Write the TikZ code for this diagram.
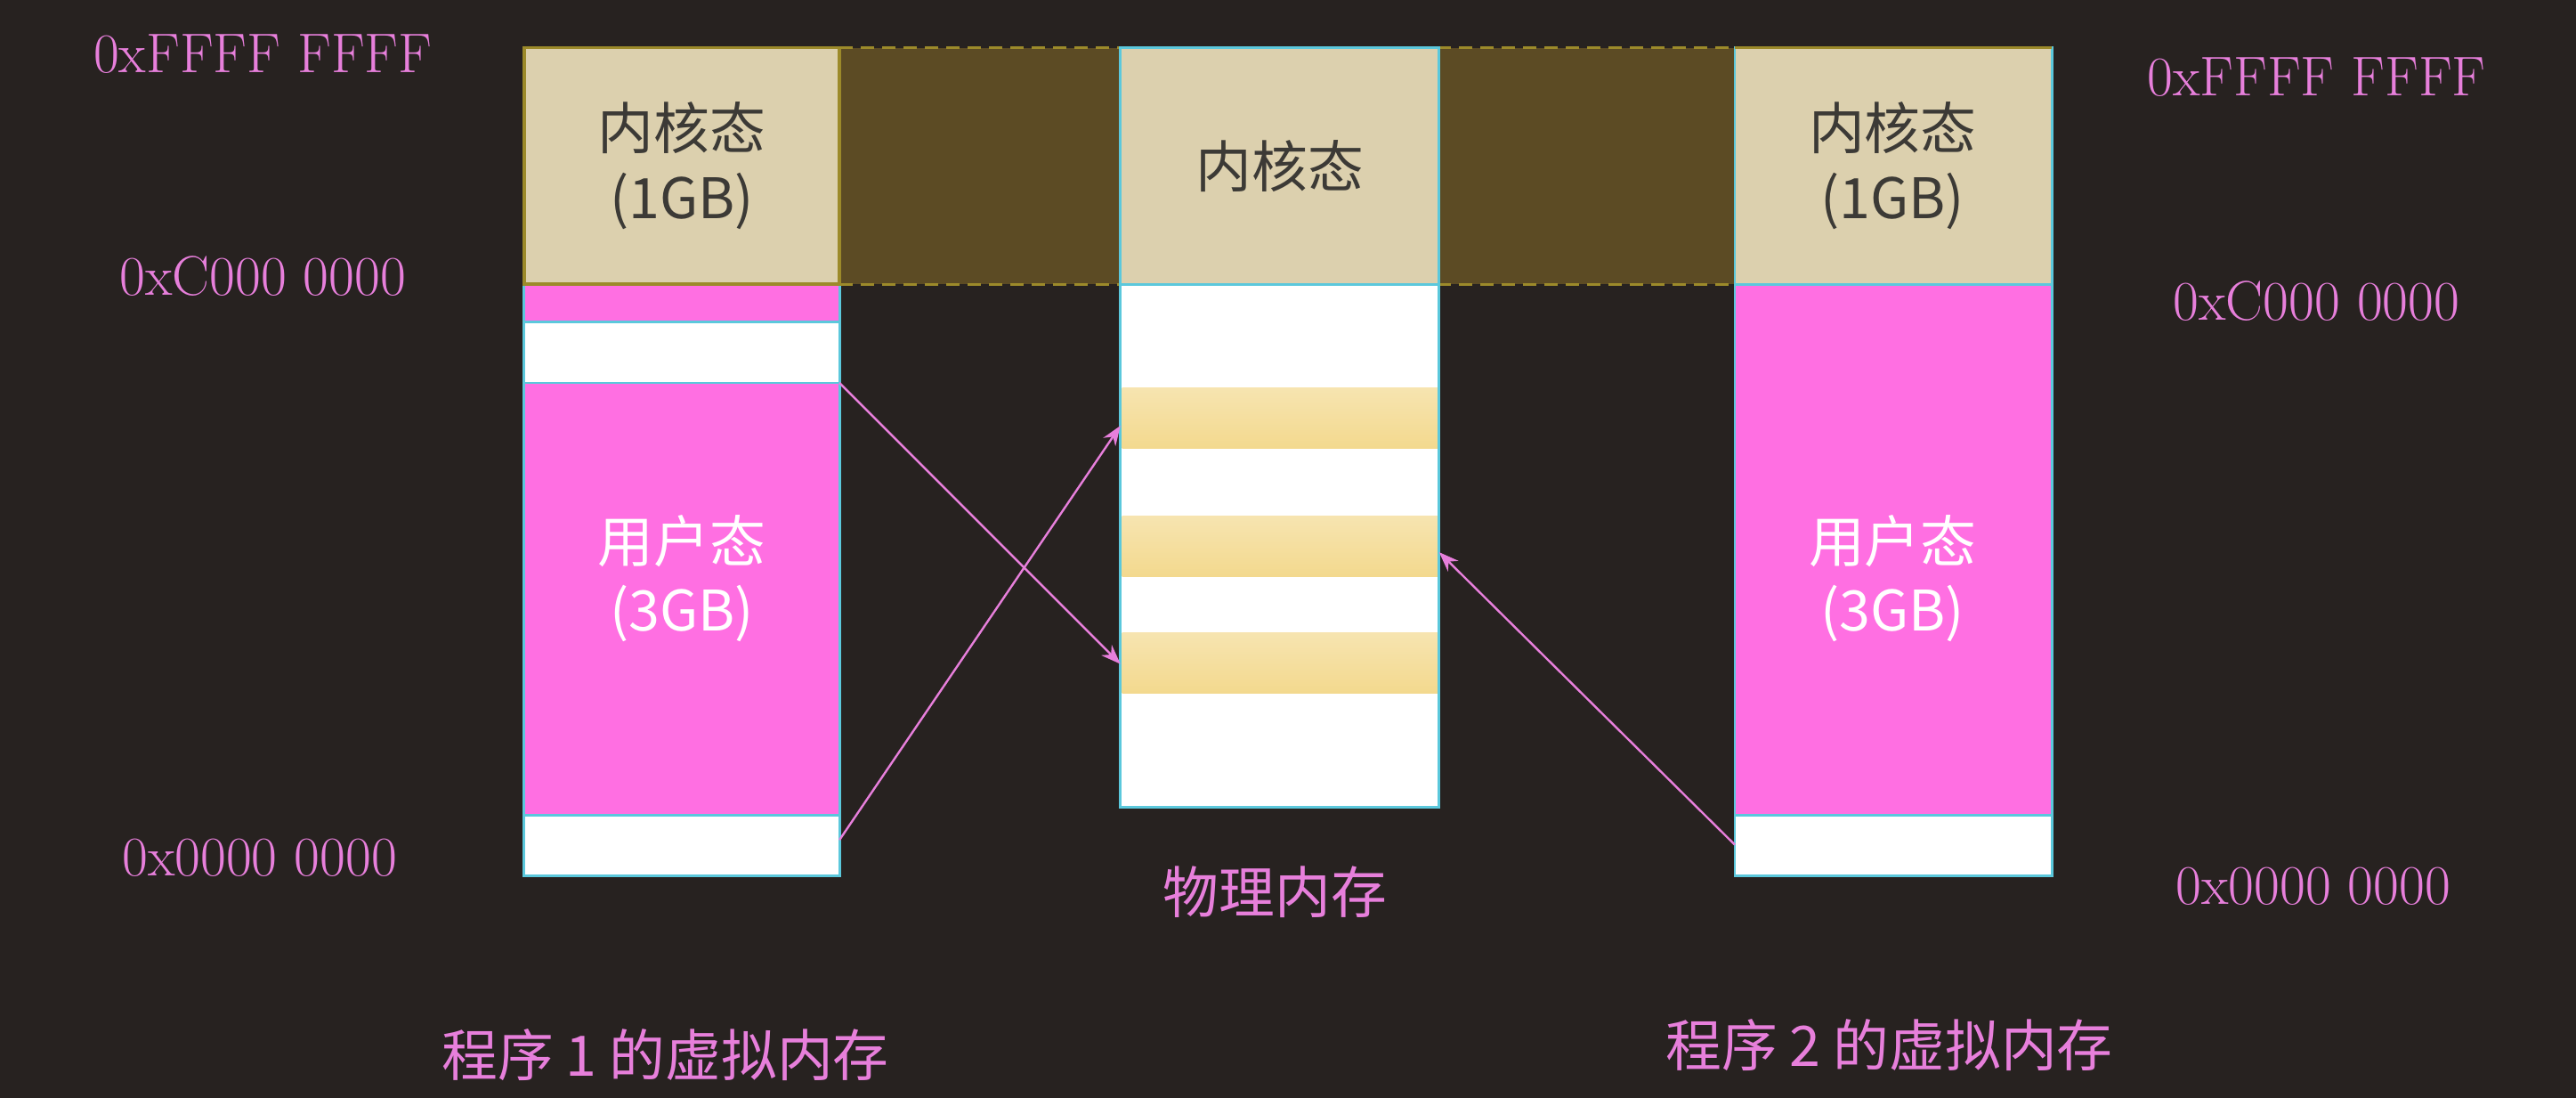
\documentclass[tikz,border=0pt]{standalone}
\usepackage{fontspec}
\usetikzlibrary{arrows.meta}
\newfontfamily\cjk{Noto Sans CJK SC}
\definecolor{bg}{HTML}{272220}
\definecolor{tan}{HTML}{DCD0AE}
\definecolor{olive}{HTML}{9C8A2A}
\definecolor{band}{HTML}{5C4B24}
\definecolor{pk}{HTML}{FF6FE2}
\definecolor{pl}{HTML}{E77FDB}
\definecolor{cy}{HTML}{5BC8DC}
\definecolor{yl}{HTML}{F3D98E}
\definecolor{txt}{HTML}{3C3A36}
\begin{document}
\begin{tikzpicture}[x=1pt,y=-1pt,
  addr/.style={text=pl,font=\fontsize{34}{36}\selectfont},
  captext/.style={text=pl,font=\cjk\fontsize{34}{36}\selectfont},
  kern/.style={text=txt,font=\cjk\fontsize{34}{42}\selectfont,align=center},
  user/.style={text=white,font=\cjk\fontsize{34}{42}\selectfont,align=center},
  cyb/.style={draw=cy,line width=1.5pt},
  arr/.style={draw=pl,line width=1.3pt,-{Stealth[length=12pt,width=9pt]}}]
\fill[bg] (0,0) rectangle (1568,668);
% bands
\fill[band] (511,29) rectangle (682,173);
\fill[band] (876,29) rectangle (1056,173);
\draw[olive,line width=1.5pt,dash pattern=on 8pt off 5pt] (511,29) -- (1056,29) (511,173) -- (1056,173);
% left column
\fill[pk] (319,173) rectangle (511,533);
\draw[cyb,fill=white] (319,196) rectangle (511,233);
\draw[cyb,fill=white] (319,496) rectangle (511,533);
\draw[cyb] (319,173) -- (319,533) (511,173) -- (511,533);
\draw[olive,line width=2pt,fill=tan] (319,29) rectangle (511,173);
\node[kern] (k1) at (415,101) {内核态\\(1GB)};
\node[user] (u1) at (415,352) {用户态\\(3GB)};
% middle
\draw[cyb,fill=white] (682,173) rectangle (876,491);
\foreach \y in {236,314,385}{
  \shade[top color=yl!70!white,bottom color=yl] (683,\y) rectangle (875,\y+37);
}
\draw[cyb,fill=tan] (682,29) rectangle (876,173);
\node[kern] (km) at (779,101) {内核态};
% right column
\fill[pk] (1056,173) rectangle (1249,533);
\draw[cyb,fill=white] (1056,496) rectangle (1249,533);
\draw[cyb] (1056,173) -- (1056,533) (1249,173) -- (1249,533);
\draw[cyb,fill=tan] (1056,29) rectangle (1249,173);
\draw[olive,line width=1.5pt] (1056,29) -- (1249,29);
\node[kern] (k2) at (1152,101) {内核态\\(1GB)};
\node[user] (u2) at (1152,352) {用户态\\(3GB)};
% arrows
\coordinate (a1) at (511,233);
\coordinate (a2) at (511,511);
\coordinate (a3) at (1056,514);
\coordinate (m3) at (682,404);
\coordinate (m1) at (682,259);
\coordinate (m2) at (876,336);
\draw[arr] (a1) -- (m3);
\draw[arr] (a2) -- (m1);
\draw[arr] (a3) -- (m2);
% labels
\node[addr] (l1) at (160,33) {0xFFFF FFFF};
\node[addr] (l2) at (160,168) {0xC000 0000};
\node[addr] (l3) at (158,522) {0x0000 0000};
\node[addr] (r1) at (1410,47) {0xFFFF FFFF};
\node[addr] (r2) at (1410,183) {0xC000 0000};
\node[addr] (r3) at (1408,539) {0x0000 0000};
\node[captext] (pm) at (776,543) {物理内存};
\node[captext] (p1) at (405,642) {程序 1 的虚拟内存};
\node[captext] (p2) at (1150,636) {程序 2 的虚拟内存};
\end{tikzpicture}
\end{document}
